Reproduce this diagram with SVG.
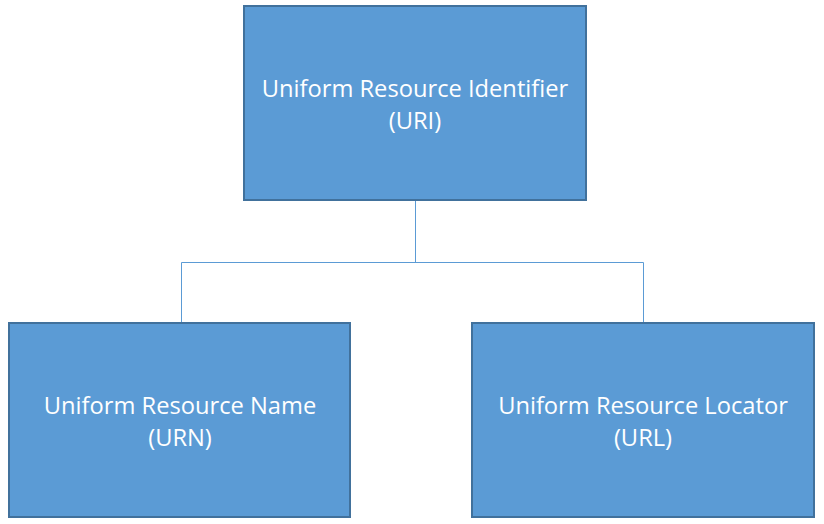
<svg xmlns="http://www.w3.org/2000/svg" width="824" height="524" viewBox="0 0 824 524">
<style>
.box{fill:#5B9BD5;stroke:#41719C;stroke-width:2}
.lbl{fill:#FFFFFF;font-family:"Open Sans","Noto Sans",sans-serif;font-size:23.7px;text-anchor:middle}
.conn{fill:none;stroke:#5B9BD5;stroke-width:1}
</style>
<rect width="824" height="524" fill="#FFFFFF"/>
<g id="connectors">
<path class="conn" d="M415.5,200 V262.5 M181.5,323 V262.5 H643.5 V323"/>
</g>
<g id="uri">
<rect class="box" x="244" y="6" width="342" height="194"/>
<text class="lbl" x="415" y="97">Uniform Resource Identifier</text>
<text class="lbl" x="415" y="129">(URI)</text>
</g>
<g id="urn">
<rect class="box" x="9" y="323" width="341" height="194"/>
<text class="lbl" x="180" y="414">Uniform Resource Name</text>
<text class="lbl" x="180" y="446">(URN)</text>
</g>
<g id="url">
<rect class="box" x="472" y="323" width="342" height="194"/>
<text class="lbl" x="643" y="414">Uniform Resource Locator</text>
<text class="lbl" x="643" y="446">(URL)</text>
</g>
</svg>
